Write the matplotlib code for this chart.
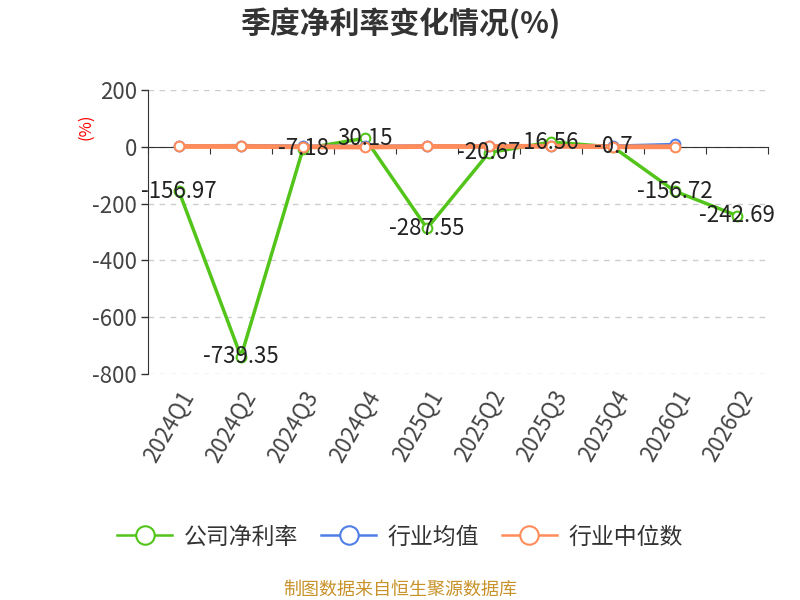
import matplotlib.pyplot as plt

plt.rcParams['font.family'] = ['Noto Sans CJK SC', 'DejaVu Sans']
plt.rcParams['axes.unicode_minus'] = False

# 季度数据
quarters = ['2024Q1', '2024Q2', '2024Q3', '2024Q4', '2025Q1',
            '2025Q2', '2025Q3', '2025Q4', '2026Q1', '2026Q2']
company = [-156.97, -739.35, -7.18, 30.15, -287.55,
           -20.67, 16.56, -0.7, -156.72, -242.69]
industry_avg = [3, 4, 2, 1, 3, 2, 4, 2, 8]
industry_median = [1, 1, 0, -1, 1, 1, 2, 0, 0]

c_green = '#52c41a'
c_blue = '#4f7fe6'
c_orange = '#ff8c5a'

fig = plt.figure(figsize=(8, 6), dpi=100)
ax = fig.add_axes([0.185, 0.377, 0.775, 0.473])

x = list(range(len(quarters)))
ax.plot(x, company, '-o', color=c_green, lw=2.5, ms=7, mfc='white',
        mec=c_green, mew=1.5, label='公司净利率', zorder=3)
ax.plot(x[:len(industry_avg)], industry_avg, '-o', color=c_blue, lw=2.5, ms=7,
        mfc='white', mec=c_blue, mew=1.5, label='行业均值', zorder=4)
ax.plot(x[:len(industry_median)], industry_median, '-o', color=c_orange, lw=3.5,
        ms=7, mfc='white', mec=c_orange, mew=1.5, label='行业中位数', zorder=5)

for xi, v in zip(x, company):
    ax.text(xi, v, f'{v:g}', ha='center', va='center', fontsize=16,
            color='#222222', zorder=6)

ax.set_xlim(-0.5, len(quarters) - 0.5)
ax.set_ylim(-800, 200)
ax.set_yticks([200, 0, -200, -400, -600, -800])
ax.tick_params(axis='y', labelsize=16, colors='#333333', length=5, width=1,
               pad=3)
ax.tick_params(axis='y', labelcolor='#444444')
ax.yaxis.grid(True, linestyle=(0, (4, 4)), color='#cccccc', lw=1)
ax.set_axisbelow(True)

for s in ['top', 'right']:
    ax.spines[s].set_visible(False)
ax.spines['left'].set_color('#333333')
ax.spines['bottom'].set_position(('data', 0))
ax.spines['bottom'].set_color('#333333')
ax.spines['bottom'].set_zorder(2)
ax.set_xticks([i - 0.5 for i in range(len(quarters) + 1)])
ax.set_xticklabels([])
ax.tick_params(axis='x', direction='out', length=5, colors='#333333')

sec = ax.secondary_xaxis(0)
sec.set_xticks(x)
sec.set_xticklabels(quarters, rotation=60, ha='right', va='top',
                    rotation_mode='anchor', fontsize=16, color='#444444')
sec.tick_params(length=0, pad=9)
sec.spines['bottom'].set_visible(False)

ax.text(-0.1, 0.87, '(%)', transform=ax.transAxes, rotation=90, color='red',
        fontsize=12, ha='center', va='center')

fig.text(0.5, 0.962, '季度净利率变化情况(%)', ha='center', va='center',
         fontsize=21.5, fontweight='bold', color='#333333')

leg = fig.legend(loc='center', bbox_to_anchor=(0.5, 0.105), ncol=3,
                 frameon=False, fontsize=16.5, handlelength=2.4,
                 columnspacing=1.0, handletextpad=0.5, labelcolor='#333333',
                 markerscale=1.9)
for h in leg.legend_handles:
    h.set_linewidth(1.8)

fig.text(0.5, 0.017, '制图数据来自恒生聚源数据库', ha='center', va='center',
         fontsize=13, color='#c8922a')

fig.savefig('out.png', dpi=100)
